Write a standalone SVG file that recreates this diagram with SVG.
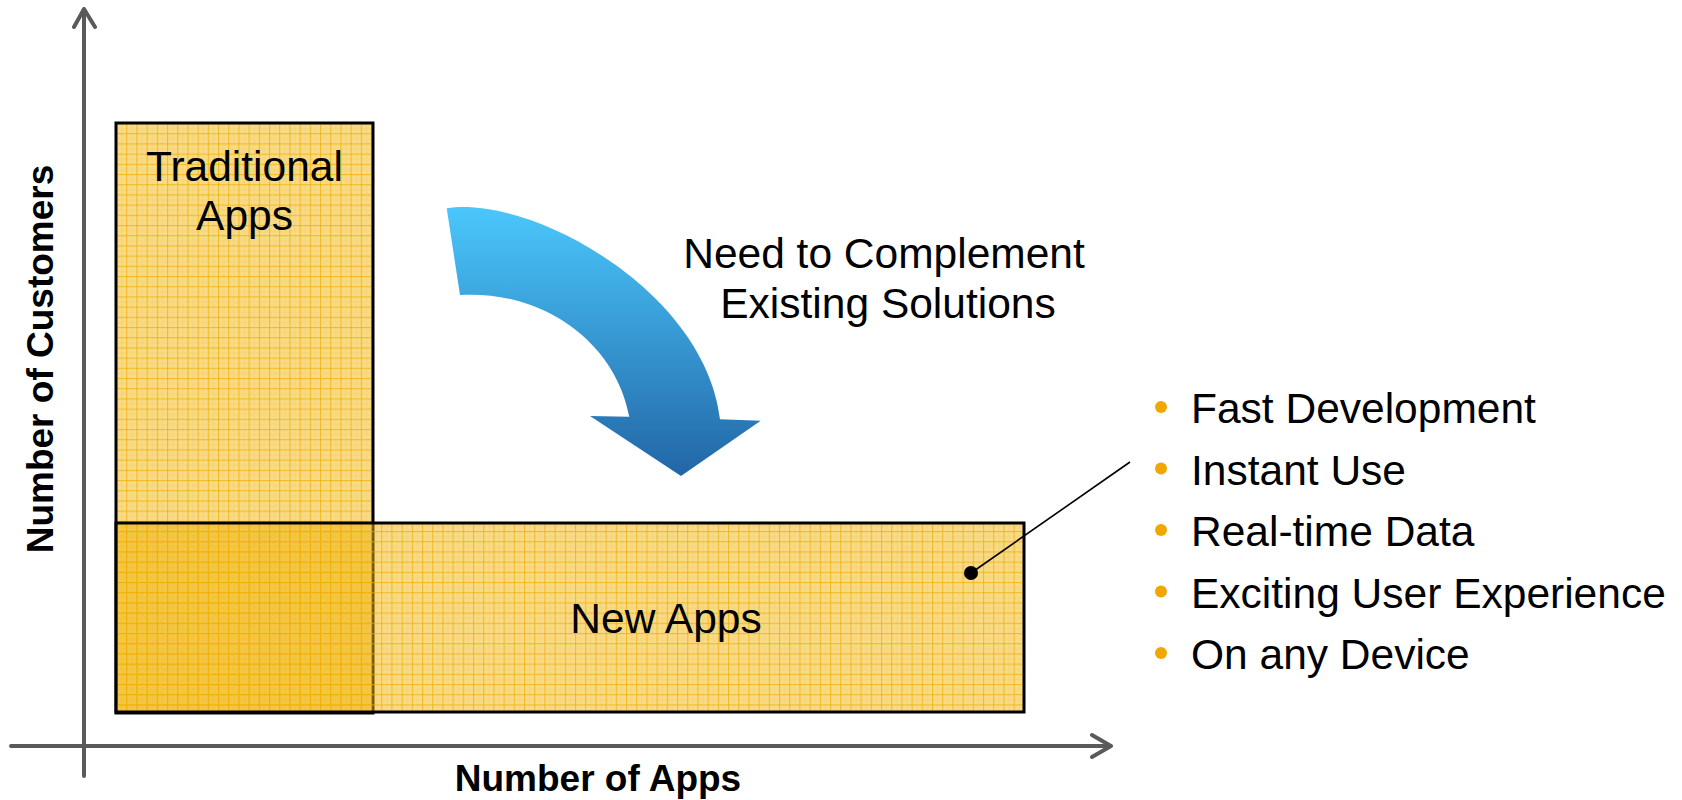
<svg xmlns="http://www.w3.org/2000/svg" width="1682" height="800" viewBox="0 0 1682 800">
<style>
  .t { font-family: "Liberation Sans", Arial, sans-serif; font-size: 42.5px; fill: #000; }
  .b { font-family: "Liberation Sans", Arial, sans-serif; font-size: 37px; font-weight: bold; fill: #000; }
  .box { fill: url(#grid); stroke: #000; stroke-width: 3; }
  .axis { fill: none; stroke: #5a5a5a; stroke-width: 4; stroke-linecap: round; stroke-linejoin: round; }
  .dot { fill: #F0A800; }
</style>
<defs>
  <pattern id="grid" patternUnits="userSpaceOnUse" x="116" y="123" width="10.2" height="10.2">
    <rect width="10.2" height="10.2" fill="#F0B000" fill-opacity="0.47"/>
    <rect x="5.1" y="0" width="1" height="10.2" fill="#F0B000" fill-opacity="0.12"/>
    <rect x="0" y="5.1" width="10.2" height="1" fill="#F0B000" fill-opacity="0.12"/>
    <rect x="0" y="0" width="1.1" height="10.2" fill="#F0B000" fill-opacity="0.7"/>
    <rect x="0" y="0" width="10.2" height="1.1" fill="#F0B000" fill-opacity="0.7"/>
  </pattern>
  <linearGradient id="blue" x1="0" y1="204" x2="0" y2="476" gradientUnits="userSpaceOnUse">
    <stop offset="0" stop-color="#4BC8FD"/>
    <stop offset="1" stop-color="#2266A6"/>
  </linearGradient>
</defs>

<g id="axes">
  <path class="axis" d="M84,776 L84,9 M74,27 L84,9 L95,27"/>
  <path class="axis" d="M11,746 L1111,746 M1092,735 L1111,746 L1092,757"/>
  <text class="b" transform="translate(53,359) rotate(-90)" text-anchor="middle">Number of Customers</text>
  <text class="b" x="598" y="791" text-anchor="middle">Number of Apps</text>
</g>

<g id="traditional-apps">
  <rect class="box" x="116" y="123" width="257" height="590"/>
  <text class="t" x="244.5" y="181" text-anchor="middle">Traditional</text>
  <text class="t" x="244.5" y="230" text-anchor="middle">Apps</text>
</g>

<g id="new-apps">
  <rect class="box" x="116" y="523" width="908" height="189"/>
  <text class="t" x="666" y="633" text-anchor="middle">New Apps</text>
</g>

<g id="shift-arrow">
  <path d="M446.7,208.3 C530,195 705,290 720,419.3 L760.7,420.7 L681,476 L590,416 L629.3,416.7 C615,340 540,290 460,295 Z" fill="url(#blue)"/>
  <text class="t" x="884" y="268" text-anchor="middle">Need to Complement</text>
  <text class="t" x="888" y="318" text-anchor="middle">Existing Solutions</text>
</g>

<g id="connectors">
  <line x1="971" y1="573" x2="1130" y2="462" stroke="#000" stroke-width="1.6"/>
  <circle cx="971" cy="573" r="7" fill="#000"/>
</g>

<g id="benefits">
  <circle class="dot" cx="1161" cy="407" r="6"/>
  <text class="t" x="1191" y="423">Fast Development</text>
  <circle class="dot" cx="1161" cy="468.5" r="6"/>
  <text class="t" x="1191" y="484.5">Instant Use</text>
  <circle class="dot" cx="1161" cy="530" r="6"/>
  <text class="t" x="1191" y="546">Real-time Data</text>
  <circle class="dot" cx="1161" cy="591.5" r="6"/>
  <text class="t" x="1191" y="607.5">Exciting User Experience</text>
  <circle class="dot" cx="1161" cy="653" r="6"/>
  <text class="t" x="1191" y="669">On any Device</text>
</g>
</svg>
